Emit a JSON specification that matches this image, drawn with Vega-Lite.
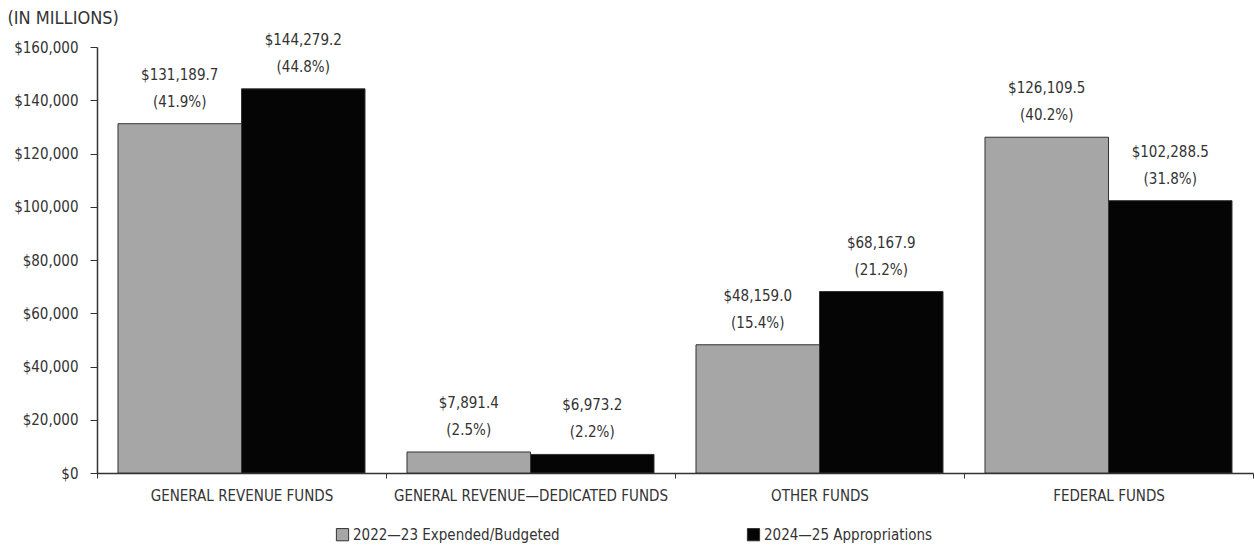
{
  "$schema": "https://vega.github.io/schema/vega-lite/v6.json",
  "width": 1156,
  "height": 426,
  "padding": {"left": 97, "top": 47, "right": 1, "bottom": 75},
  "autosize": {"type": "none"},
  "background": "white",
  "config": {
    "view": {"stroke": null},
    "font": "DejaVu Sans Condensed",
    "text": {"font": "DejaVu Sans Condensed"}
  },
  "data": {
    "values": [
      {"fund": "GENERAL REVENUE FUNDS", "series": "2022—23 Expended/Budgeted", "value": 131189.7, "label": "$131,189.7\n(41.9%)"},
      {"fund": "GENERAL REVENUE FUNDS", "series": "2024—25 Appropriations", "value": 144279.2, "label": "$144,279.2\n(44.8%)"},
      {"fund": "GENERAL REVENUE—DEDICATED FUNDS", "series": "2022—23 Expended/Budgeted", "value": 7891.4, "label": "$7,891.4\n(2.5%)"},
      {"fund": "GENERAL REVENUE—DEDICATED FUNDS", "series": "2024—25 Appropriations", "value": 6973.2, "label": "$6,973.2\n(2.2%)"},
      {"fund": "OTHER FUNDS", "series": "2022—23 Expended/Budgeted", "value": 48159.0, "label": "$48,159.0\n(15.4%)"},
      {"fund": "OTHER FUNDS", "series": "2024—25 Appropriations", "value": 68167.9, "label": "$68,167.9\n(21.2%)"},
      {"fund": "FEDERAL FUNDS", "series": "2022—23 Expended/Budgeted", "value": 126109.5, "label": "$126,109.5\n(40.2%)"},
      {"fund": "FEDERAL FUNDS", "series": "2024—25 Appropriations", "value": 102288.5, "label": "$102,288.5\n(31.8%)"}
    ]
  },
  "encoding": {
    "x": {
      "field": "fund",
      "type": "nominal",
      "sort": null,
      "scale": {"paddingInner": 0, "paddingOuter": 0},
      "axis": {
        "title": null,
        "labelAngle": 0,
        "labelFontSize": 15,
        "labelColor": "#333333",
        "labelPadding": 10,
        "labelLimit": 400,
        "tickBand": "extent",
        "tickSize": 5,
        "tickColor": "#333333",
        "domainColor": "#333333",
        "domainWidth": 1.5,
        "labelFont": "DejaVu Sans Condensed"
      }
    },
    "xOffset": {
      "field": "series",
      "type": "nominal",
      "sort": ["2022—23 Expended/Budgeted", "2024—25 Appropriations"],
      "scale": {"paddingInner": 0, "paddingOuter": 0.17}
    },
    "y": {
      "field": "value",
      "type": "quantitative",
      "scale": {"domain": [0, 160000], "nice": false},
      "axis": {
        "title": "(IN MILLIONS)",
        "titleAngle": 0,
        "titleAlign": "left",
        "titleBaseline": "alphabetic",
        "titleX": -90,
        "titleY": -24,
        "titleFontSize": 18,
        "titleFontWeight": "normal",
        "titleColor": "#333333",
        "titleFont": "DejaVu Sans Condensed",
        "values": [0, 20000, 40000, 60000, 80000, 100000, 120000, 140000, 160000],
        "labelExpr": "'$' + format(datum.value, ',')",
        "labelFontSize": 15,
        "labelColor": "#333333",
        "labelFont": "DejaVu Sans Condensed",
        "labelPadding": 12,
        "tickSize": 7,
        "tickColor": "#333333",
        "domainColor": "#333333",
        "domainWidth": 1.5,
        "grid": false
      }
    }
  },
  "layer": [
    {
      "mark": {"type": "bar", "stroke": "#333333", "strokeWidth": 1},
      "encoding": {
        "color": {
          "field": "series",
          "type": "nominal",
          "scale": {"domain": ["2022—23 Expended/Budgeted", "2024—25 Appropriations"], "range": ["#a6a6a6", "#050505"]},
          "legend": {
            "title": null,
            "orient": "none",
            "legendX": 238,
            "legendY": 480,
            "direction": "horizontal",
            "symbolType": "square",
            "symbolSize": 150,
            "symbolStrokeColor": "#333333",
            "symbolStrokeWidth": 1,
            "labelFontSize": 15,
            "labelColor": "#333333",
            "labelFont": "DejaVu Sans Condensed",
            "labelLimit": 400,
            "labelOffset": 3,
            "columnPadding": 185
          }
        }
      }
    },
    {
      "mark": {"type": "text", "baseline": "bottom", "align": "center", "dy": -41, "lineBreak": "\n", "fontSize": 15, "lineHeight": 27, "color": "#333333"},
      "encoding": {
        "text": {"field": "label"}
      }
    }
  ]
}
